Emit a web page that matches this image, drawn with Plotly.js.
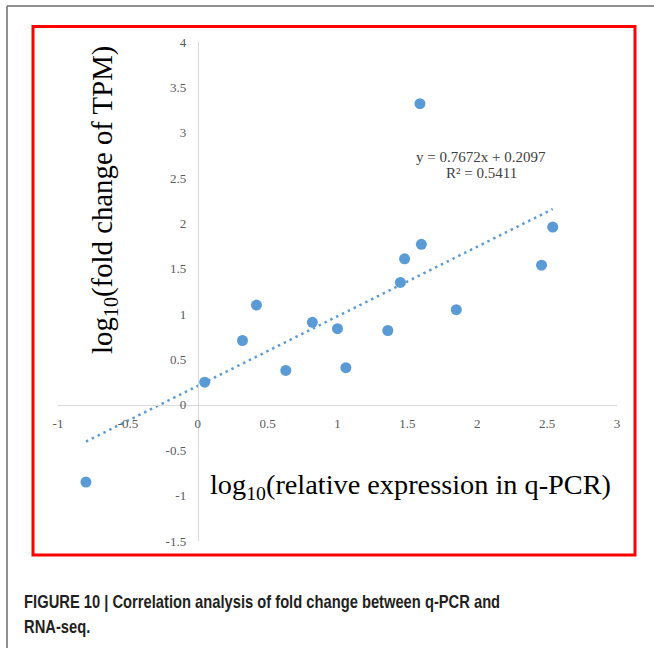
<!DOCTYPE html>
<html>
<head>
<meta charset="utf-8">
<script src="https://cdn.plot.ly/plotly-3.0.1.min.js"></script>
<style>html,body{margin:0;padding:0;background:#fff;}#chart{width:654px;height:648px;}</style>
</head>
<body>
<div id="chart"></div>
<script>
// Data
const qpcrLog = [-0.80, 0.05, 0.32, 0.42, 0.63, 0.82, 1.00, 1.06, 1.36, 1.85, 1.59, 1.60, 1.48, 1.45, 2.46, 2.54];
const tpmLog  = [-0.85, 0.25, 0.71, 1.10, 0.38, 0.91, 0.84, 0.41, 0.82, 1.05, 3.32, 1.77, 1.61, 1.35, 1.54, 1.96];
const trendSlope = 0.7672;
const trendIntercept = 0.2097;
const rSquared = 0.5411;
const xTicks = [-1, -0.5, 0, 0.5, 1, 1.5, 2, 2.5, 3];
const yTicks = [-1.5, -1, -0.5, 0, 0.5, 1, 1.5, 2, 2.5, 3, 3.5, 4];
const xTitle = 'log<sub>10</sub>(relative expression in q-PCR)';
const yTitle = 'log<sub>10</sub>(fold change of TPM)';
const caption1 = 'FIGURE 10 | Correlation analysis of fold change between q-PCR and';
const caption2 = 'RNA-seq.';

const W = 654, H = 648;
const M = {l: 58, r: 37, t: 42, b: 107};
const px = x => (x - M.l) / (W - M.l - M.r);
const py = y => (H - M.b - y) / (H - M.t - M.b);

const xMin = Math.min(...qpcrLog), xMax = Math.max(...qpcrLog);
const trendX = [xMin, xMax];
const trendY = trendX.map(v => trendSlope * v + trendIntercept);

const blue = '#5B9BD5';
const serif = 'Liberation Serif, Times New Roman, serif';
const capFont = {family: 'Liberation Sans, Arial, sans-serif', size: 18, color: '#231f20'};

const traces = [
  {x: trendX, y: trendY, mode: 'lines', line: {color: blue, width: 2.5, dash: '2.5px,4px'}, hoverinfo: 'skip', showlegend: false},
  {x: qpcrLog, y: tpmLog, mode: 'markers', marker: {color: blue, size: 11}, showlegend: false}
];

const layout = {
  width: W, height: H,
  margin: M,
  paper_bgcolor: '#fff', plot_bgcolor: 'rgba(0,0,0,0)',
  showlegend: false,
  xaxis: {
    range: [-1, 3], tickvals: xTicks, ticktext: xTicks.map(String),
    showgrid: false, zeroline: false,
    showline: true, linecolor: '#d9d9d9', linewidth: 1.3,
    anchor: 'free', position: 1.5 / 5.5,
    ticks: 'outside', ticklen: 6, tickcolor: 'rgba(0,0,0,0)',
    tickfont: {family: serif, size: 13, color: '#595959'}
  },
  yaxis: {
    range: [-1.5, 4], tickvals: yTicks, ticktext: yTicks.map(String),
    showgrid: false, zeroline: false,
    showline: true, linecolor: '#d9d9d9', linewidth: 1.3,
    anchor: 'free', position: 0.25,
    ticks: 'outside', ticklen: 9, tickcolor: 'rgba(0,0,0,0)',
    tickfont: {family: serif, size: 13, color: '#595959'}
  },
  shapes: [
    {type: 'line', xref: 'paper', yref: 'paper', x0: px(7), x1: px(654), y0: py(6), y1: py(6), line: {color: '#6b6b6b', width: 1.5}},
    {type: 'line', xref: 'paper', yref: 'paper', x0: px(7), x1: px(7), y0: py(6), y1: py(648), line: {color: '#6b6b6b', width: 1.5}},
    {type: 'rect', xref: 'paper', yref: 'paper', x0: px(33), x1: px(635), y0: py(26.5), y1: py(555), line: {color: '#ff0000', width: 3}}
  ],
  annotations: [
    {xref: 'paper', yref: 'paper', x: px(410), y: py(486), text: xTitle, showarrow: false, xanchor: 'center', yanchor: 'middle',
     font: {family: serif, size: 28.3, color: '#000'}},
    {xref: 'paper', yref: 'paper', x: px(104), y: py(200), text: yTitle, showarrow: false, textangle: -90, xanchor: 'center', yanchor: 'middle',
     font: {family: serif, size: 28.8, color: '#000'}},
    {xref: 'paper', yref: 'paper', x: px(481), y: py(157), text: 'y = ' + trendSlope + 'x + ' + trendIntercept, showarrow: false, xanchor: 'center', yanchor: 'middle',
     font: {family: serif, size: 15, color: '#404040'}},
    {xref: 'paper', yref: 'paper', x: px(481), y: py(172.5), text: 'R² = ' + rSquared, showarrow: false, xanchor: 'center', yanchor: 'middle',
     font: {family: serif, size: 15, color: '#404040'}},
    {xref: 'paper', yref: 'paper', x: px(22), y: py(602), text: '<b>' + caption1 + '</b>', showarrow: false, xanchor: 'left', yanchor: 'middle',
     font: capFont},
    {xref: 'paper', yref: 'paper', x: px(22), y: py(627), text: '<b>' + caption2 + '</b>', showarrow: false, xanchor: 'left', yanchor: 'middle',
     font: capFont}
  ]
};

Plotly.newPlot('chart', traces, layout, {displayModeBar: false, staticPlot: true}).then(() => {
  // condense the caption text horizontally, as in the reference's condensed sans face
  document.querySelectorAll('#chart .annotation-text').forEach(t => {
    const s = t.textContent;
    if (s.startsWith('FIGURE') || s.startsWith('RNA')) {
      t.style.transformBox = 'fill-box';
      t.style.transformOrigin = 'left center';
      t.style.transform = 'scaleX(0.818)';
    }
  });
});
</script>
</body>
</html>
